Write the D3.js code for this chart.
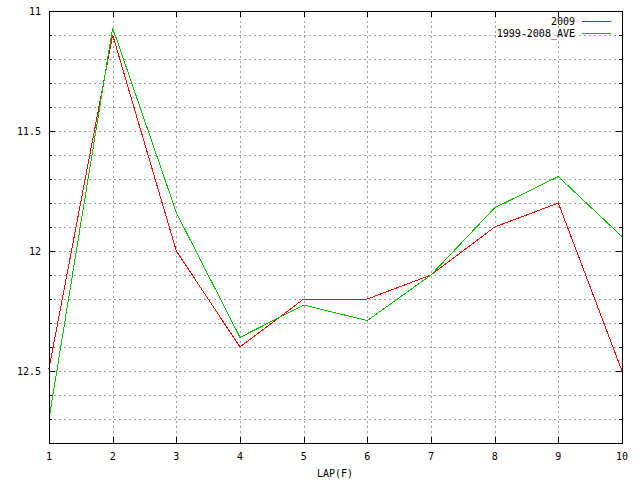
<!DOCTYPE html>
<html><head><meta charset="utf-8">
<script src="https://cdn.jsdelivr.net/npm/d3@7"></script>
<style>body{margin:0;background:#fff}</style>
</head><body>
<svg id="c" width="640" height="480"></svg>
<script>
const laps = [1,2,3,4,5,6,7,8,9,10];
const s2009 = [12.49,11.10,12.00,12.40,12.20,12.20,12.10,11.90,11.80,12.50];
const sAve = [12.70,11.07,11.84,12.36,12.225,12.29,12.10,11.82,11.69,11.94];
const yTickLabels = [11,11.5,12,12.5];
const seriesNames = ["2009","1999-2008_AVE"];
const colors = ["#ff0000","#00c000"];

const L=49,R=622,T=11,B=443;
const svg=d3.select("#c");
const x=d3.scaleLinear().domain([1,10]).range([L,R]);
const y=d3.scaleLinear().domain([11,12.8]).range([T,B]);
const font="'DejaVu Sans Mono', monospace";
const fs=10;
const minor=d3.range(0,19).map(i=>+(11+i*0.1).toFixed(1));

// grid
const g=svg.append("g").attr("stroke","#a0a0a0").attr("stroke-dasharray","2,3").attr("stroke-width",1);
minor.filter(v=>v>11&&v<12.8).forEach(v=>{
  g.append("line").attr("x1",L).attr("x2",R).attr("y1",Math.round(y(v))+0.5).attr("y2",Math.round(y(v))+0.5);
});
laps.filter(v=>v>1&&v<10).forEach(v=>{
  g.append("line").attr("y1",T).attr("y2",B).attr("x1",Math.round(x(v))+0.5).attr("x2",Math.round(x(v))+0.5);
});

// ticks
const tk=svg.append("g").attr("stroke","#000").attr("stroke-width",1);
minor.forEach(v=>{
  const yy=Math.round(y(v))+0.5;
  const len=yTickLabels.includes(v)?6:3;
  tk.append("line").attr("x1",L).attr("x2",L+len).attr("y1",yy).attr("y2",yy);
  tk.append("line").attr("x1",R-len).attr("x2",R).attr("y1",yy).attr("y2",yy);
});
laps.forEach(v=>{
  const xx=Math.round(x(v))+0.5;
  tk.append("line").attr("x1",xx).attr("x2",xx).attr("y1",B).attr("y2",B-6);
  tk.append("line").attr("x1",xx).attr("x2",xx).attr("y1",T).attr("y2",T+6);
});

// lines
const line=d3.line().x((d,i)=>x(laps[i])).y(d=>y(d));
[s2009,sAve].forEach((s,i)=>{
  svg.append("path").attr("d",line(s)).attr("fill","none").attr("stroke",colors[i])
    .attr("stroke-width",1).attr("shape-rendering","crispEdges");
});

// border
svg.append("rect").attr("x",L+0.5).attr("y",T+0.5).attr("width",R-L).attr("height",B-T)
  .attr("fill","none").attr("stroke","#000").attr("stroke-width",1);

// labels
svg.selectAll(".yl").data(yTickLabels).enter().append("text")
  .attr("x",41).attr("y",d=>y(d)+4).attr("text-anchor","end")
  .attr("font-family",font).attr("font-size",fs).text(d=>d);
svg.selectAll(".xl").data(laps).enter().append("text")
  .attr("x",d=>x(d)).attr("y",460).attr("text-anchor","middle")
  .attr("font-family",font).attr("font-size",fs).text(d=>d);
svg.append("text").attr("x",335).attr("y",477).attr("text-anchor","middle")
  .attr("font-family",font).attr("font-size",fs).text("LAP(F)");

// legend
seriesNames.forEach((n,i)=>{
  const yy=21+i*12;
  svg.append("text").attr("x",575).attr("y",yy+4).attr("text-anchor","end")
    .attr("font-family",font).attr("font-size",fs).text(n);
  svg.append("line").attr("x1",582).attr("x2",611).attr("y1",yy+0.5).attr("y2",yy+0.5)
    .attr("stroke",colors[i]).attr("stroke-width",1);
});
</script>
</body></html>
